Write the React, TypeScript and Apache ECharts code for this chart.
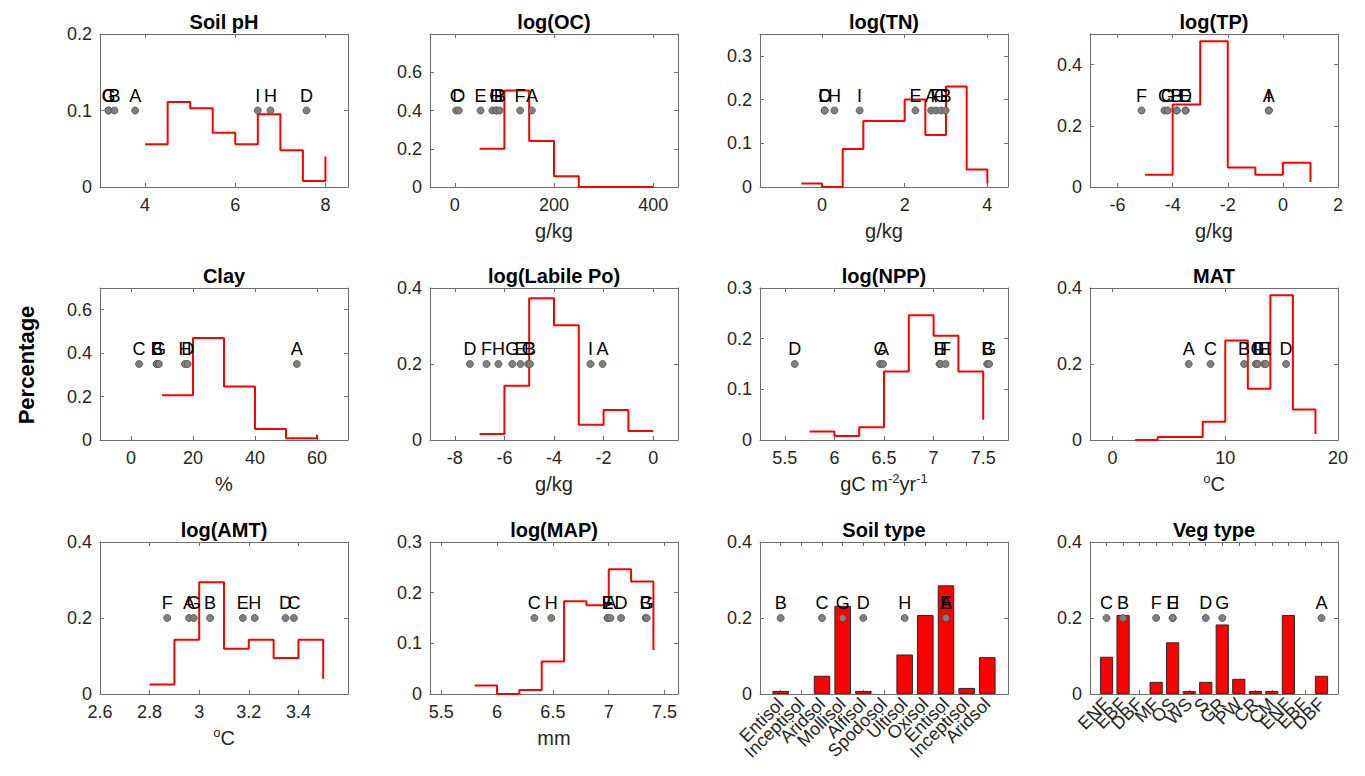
import React, { useEffect, useRef } from "react";
import * as echarts from "echarts";

// ---------------- data ----------------
const phEdges = [4, 4.5, 5, 5.5, 6, 6.5, 7, 7.5, 8];
const phFreq = [0.056, 0.111, 0.103, 0.071, 0.056, 0.095, 0.048, 0.008, 0.04];
const phSites = ["C", "G", "B", "A", "I", "H", "D"];
const phSiteX = [3.19, 3.19, 3.32, 3.78, 6.5, 6.78, 7.58];

const ocEdges = [50, 100, 150, 200, 250, 300, 350, 400];
const ocFreq = [0.2, 0.504, 0.24, 0.056, 0, 0, 0, 0];
const ocSites = ["C", "D", "E", "I", "H", "G", "B", "F", "A"];
const ocSiteX = [2.7, 8.1, 52, 75.7, 83.8, 83.8, 90.5, 131.7, 155.4];

const tnEdges = [-0.5, 0, 0.5, 1, 1.5, 2, 2.5, 3, 3.5, 4];
const tnFreq = [0.008, 0, 0.087, 0.151, 0.151, 0.2, 0.119, 0.23, 0.04, 0.008];
const tnSites = ["C", "D", "H", "I", "E", "A", "F", "G", "B"];
const tnSiteX = [0.065, 0.065, 0.3, 0.91, 2.26, 2.64, 2.76, 2.88, 2.99];

const tpEdges = [-5, -4, -3, -2, -1, 0, 1];
const tpFreq = [0.04, 0.27, 0.476, 0.064, 0.04, 0.079, 0.016];
const tpSites = ["F", "C", "G", "B", "H", "E", "D", "I", "A"];
const tpSiteX = [-5.13, -4.3, -4.18, -3.85, -3.85, -3.53, -3.53, -0.51, -0.51];

const clayEdges = [10, 20, 30, 40, 50, 60];
const clayFreq = [0.206, 0.47, 0.246, 0.051, 0.008, 0.024];
const claySites = ["C", "B", "E", "G", "H", "D", "A"];
const claySiteX = [2.6, 8.3, 8.3, 9.0, 17.4, 18.3, 53.5];

const poEdges = [-7, -6, -5, -4, -3, -2, -1, 0];
const poFreq = [0.016, 0.143, 0.373, 0.302, 0.04, 0.079, 0.024, 0.024];
const poSites = ["D", "F", "H", "G", "E", "C", "B", "I", "A"];
const poSiteX = [-7.39, -6.72, -6.24, -5.68, -5.35, -5.04, -4.97, -2.53, -2.04];

const nppEdges = [5.75, 6, 6.25, 6.5, 6.75, 7, 7.25, 7.5];
const nppFreq = [0.017, 0.008, 0.025, 0.135, 0.246, 0.206, 0.135, 0.04];
const nppSites = ["D", "C", "A", "E", "H", "F", "B", "G"];
const nppSiteX = [5.6, 6.46, 6.49, 7.06, 7.07, 7.12, 7.54, 7.56];

const matEdges = [2, 4, 6, 8, 10, 12, 14, 16, 18];
const matFreq = [0, 0.008, 0.008, 0.048, 0.262, 0.135, 0.381, 0.08, 0.016];
const matSites = ["A", "C", "B", "I", "G", "F", "H", "E", "D"];
const matSiteX = [6.76, 8.69, 11.67, 12.71, 12.86, 12.86, 13.45, 13.6, 15.39];

const amtEdges = [2.8, 2.9, 3, 3.1, 3.2, 3.3, 3.4, 3.5];
const amtFreq = [0.025, 0.143, 0.294, 0.119, 0.143, 0.095, 0.143, 0.04];
const amtSites = ["F", "A", "G", "B", "E", "H", "D", "C"];
const amtSiteX = [2.871, 2.959, 2.978, 3.044, 3.176, 3.224, 3.348, 3.382];

const mapEdges = [5.8, 6, 6.2, 6.4, 6.6, 6.8, 7, 7.2, 7.4];
const mapFreq = [0.017, 0, 0.008, 0.064, 0.183, 0.175, 0.246, 0.222, 0.087];
const mapSites = ["C", "H", "E", "F", "A", "D", "B", "G"];
const mapSiteX = [6.334, 6.486, 6.99, 6.99, 7.015, 7.11, 7.33, 7.34];

const soilTypes = ["Entisol", "Inceptisol", "Aridsol", "Mollisol", "Alfisol", "Spodosol", "Ultisol", "Oxisol", "Entisol", "Inceptisol", "Aridsol"];
const soilFreq = [0.008, 0, 0.048, 0.232, 0.008, 0, 0.104, 0.208, 0.286, 0.016, 0.097];
const soilSites = ["B", "C", "G", "D", "H", "E", "A"];
const soilSiteX = [1, 3, 4, 5, 7, 9, 9];

const vegTypes = ["ENF", "EBF", "DBF", "MF", "OS", "WS", "S", "GR", "PW", "CR", "CM", "ENF", "EBF", "DBF"];
const vegFreq = [0.098, 0.208, 0, 0.032, 0.136, 0.008, 0.032, 0.183, 0.04, 0.008, 0.008, 0.208, 0, 0.048];
const vegSites = ["C", "B", "F", "E", "H", "D", "G", "A"];
const vegSiteX = [1, 2, 4, 5, 5, 7, 8, 14];

// ---------------- panels ----------------
type Panel = {
  title: string;
  xName: string;
  xMin: number;
  xMax: number;
  xTicks: number[];
  yMax: number;
  yTicks: number[];
  edges?: number[];
  freq: number[];
  cats?: string[];
  sites: string[];
  siteX: number[];
  siteY: number;
};

const panels: Panel[] = [
  { title: "Soil pH", xName: "", xMin: 3, xMax: 8.5, xTicks: [4, 6, 8], yMax: 0.2, yTicks: [0, 0.1, 0.2], edges: phEdges, freq: phFreq, sites: phSites, siteX: phSiteX, siteY: 0.1 },
  { title: "log(OC)", xName: "{n|g/kg}", xMin: -50, xMax: 450, xTicks: [0, 200, 400], yMax: 0.8, yTicks: [0, 0.2, 0.4, 0.6], edges: ocEdges, freq: ocFreq, sites: ocSites, siteX: ocSiteX, siteY: 0.4 },
  { title: "log(TN)", xName: "{n|g/kg}", xMin: -1.5, xMax: 4.5, xTicks: [0, 2, 4], yMax: 0.35, yTicks: [0, 0.1, 0.2, 0.3], edges: tnEdges, freq: tnFreq, sites: tnSites, siteX: tnSiteX, siteY: 0.175 },
  { title: "log(TP)", xName: "{n|g/kg}", xMin: -7, xMax: 2, xTicks: [-6, -4, -2, 0, 2], yMax: 0.5, yTicks: [0, 0.2, 0.4], edges: tpEdges, freq: tpFreq, sites: tpSites, siteX: tpSiteX, siteY: 0.25 },
  { title: "Clay", xName: "{n|%}", xMin: -10, xMax: 70, xTicks: [0, 20, 40, 60], yMax: 0.7, yTicks: [0, 0.2, 0.4, 0.6], edges: clayEdges, freq: clayFreq, sites: claySites, siteX: claySiteX, siteY: 0.35 },
  { title: "log(Labile Po)", xName: "{n|g/kg}", xMin: -9, xMax: 1, xTicks: [-8, -6, -4, -2, 0], yMax: 0.4, yTicks: [0, 0.2, 0.4], edges: poEdges, freq: poFreq, sites: poSites, siteX: poSiteX, siteY: 0.2 },
  { title: "log(NPP)", xName: "{n|gC m}{s|-2}{n|yr}{s|-1}", xMin: 5.25, xMax: 7.75, xTicks: [5.5, 6, 6.5, 7, 7.5], yMax: 0.3, yTicks: [0, 0.1, 0.2, 0.3], edges: nppEdges, freq: nppFreq, sites: nppSites, siteX: nppSiteX, siteY: 0.15 },
  { title: "MAT", xName: "{s|o}{n|C}", xMin: -2, xMax: 20, xTicks: [0, 10, 20], yMax: 0.4, yTicks: [0, 0.2, 0.4], edges: matEdges, freq: matFreq, sites: matSites, siteX: matSiteX, siteY: 0.2 },
  { title: "log(AMT)", xName: "{s|o}{n|C}", xMin: 2.6, xMax: 3.6, xTicks: [2.6, 2.8, 3, 3.2, 3.4], yMax: 0.4, yTicks: [0, 0.2, 0.4], edges: amtEdges, freq: amtFreq, sites: amtSites, siteX: amtSiteX, siteY: 0.2 },
  { title: "log(MAP)", xName: "{n|mm}", xMin: 5.4, xMax: 7.62, xTicks: [5.5, 6, 6.5, 7, 7.5], yMax: 0.3, yTicks: [0, 0.1, 0.2, 0.3], edges: mapEdges, freq: mapFreq, sites: mapSites, siteX: mapSiteX, siteY: 0.15 },
  { title: "Soil type", xName: "", xMin: 0, xMax: 12, xTicks: [], yMax: 0.4, yTicks: [0, 0.2, 0.4], cats: soilTypes, freq: soilFreq, sites: soilSites, siteX: soilSiteX, siteY: 0.2 },
  { title: "Veg type", xName: "", xMin: 0, xMax: 15, xTicks: [], yMax: 0.4, yTicks: [0, 0.2, 0.4], cats: vegTypes, freq: vegFreq, sites: vegSites, siteX: vegSiteX, siteY: 0.2 },
];

// ---------------- layout / style ----------------
const FONT = "'Liberation Sans', Arial, Helvetica, sans-serif";
const AX = "#6e6e6e";
const TXT = "#262626";
const COL_LEFT = [100, 430, 760, 1090];
const ROW_TOP = [34, 288, 542];
const ROW_H = [153, 152, 152];
const PW = 248;

function buildOption() {
  const grid: any[] = [];
  const xAxis: any[] = [];
  const yAxis: any[] = [];
  const series: any[] = [];
  const graphic: any[] = [];

  const axisLine = { show: true, onZero: false, lineStyle: { color: AX, width: 1 } };
  const tick = (vals: number[]) => ({ show: true, inside: true, length: 4, customValues: vals, lineStyle: { color: AX, width: 1 } });
  const catTick = { show: true, inside: true, length: 4, interval: 0, lineStyle: { color: AX, width: 1 } };
  const nameStyle = {
    fontSize: 20,
    fontFamily: FONT,
    color: TXT,
    rich: {
      n: { fontSize: 20, fontFamily: FONT, color: TXT, lineHeight: 24 },
      s: { fontSize: 13, fontFamily: FONT, color: TXT, verticalAlign: "top" },
    },
  };

  panels.forEach((p, i) => {
    const r = Math.floor(i / 4);
    const c = i % 4;
    const left = COL_LEFT[c];
    const top = ROW_TOP[r];
    const h = ROW_H[r];
    grid.push({ left, top, width: PW, height: h, containLabel: false, outerBoundsMode: "none" });
    const cats = p.cats;

    if (cats) {
      // category axis padded with an empty slot at each end (MATLAB xlim [0, n+1])
      const axisCats = ["", ...cats, ""];
      xAxis.push({
        type: "category",
        gridIndex: i,
        position: "bottom",
        data: axisCats,
        boundaryGap: false,
        axisLine,
        axisTick: catTick,
        splitLine: { show: false },
        axisLabel: { interval: 0, rotate: 45, margin: 7, fontSize: 18, fontFamily: FONT, color: TXT },
      });
      xAxis.push({
        type: "category",
        gridIndex: i,
        position: "top",
        data: axisCats,
        boundaryGap: false,
        axisLine,
        axisTick: catTick,
        axisLabel: { show: false },
        splitLine: { show: false },
      });
    } else {
      xAxis.push({
        type: "value",
        gridIndex: i,
        position: "bottom",
        min: p.xMin,
        max: p.xMax,
        axisLine,
        axisTick: tick(p.xTicks),
        splitLine: { show: false },
        axisLabel: {
          show: true,
          customValues: p.xTicks,
          showMinLabel: true,
          showMaxLabel: true,
          margin: 9,
          fontSize: 18,
          fontFamily: FONT,
          color: TXT,
          formatter: (v: number) => String(v),
        },
        name: p.xName,
        nameLocation: "middle",
        nameGap: 32,
        nameTextStyle: nameStyle,
      });
      xAxis.push({
        type: "value",
        gridIndex: i,
        position: "top",
        min: p.xMin,
        max: p.xMax,
        axisLine,
        axisTick: tick(p.xTicks),
        axisLabel: { show: false },
        splitLine: { show: false },
      });
    }
    yAxis.push({
      type: "value",
      gridIndex: i,
      position: "left",
      min: 0,
      max: p.yMax,
      axisLine,
      axisTick: tick(p.yTicks),
      splitLine: { show: false },
      axisLabel: {
        customValues: p.yTicks,
        showMinLabel: true,
        showMaxLabel: true,
        margin: 8,
        fontSize: 18,
        fontFamily: FONT,
        color: TXT,
        formatter: (v: number) => String(v),
      },
    });
    yAxis.push({
      type: "value",
      gridIndex: i,
      position: "right",
      min: 0,
      max: p.yMax,
      axisLine,
      axisTick: tick(p.yTicks),
      axisLabel: { show: false },
      splitLine: { show: false },
    });

    if (cats) {
      series.push({
        type: "bar",
        xAxisIndex: 2 * i,
        yAxisIndex: 2 * i,
        data: cats.map((_, k) =>
          p.freq[k] > 0
            ? { value: [k + 1, p.freq[k]] }
            : { value: [k + 1, p.freq[k]], itemStyle: { opacity: 0, borderWidth: 0 } }
        ),
        barWidth: (0.8 * PW) / (cats.length + 1),
        itemStyle: { color: "#ff0000", borderColor: "#2b2b2b", borderWidth: 1 },
        silent: true,
        z: 2,
      });
    } else {
      series.push({
        type: "line",
        xAxisIndex: 2 * i,
        yAxisIndex: 2 * i,
        step: "end",
        symbol: "none",
        data: (p.edges as number[]).map((e, k) => [e, p.freq[k]]),
        lineStyle: { color: "#ff0000", width: 2 },
        itemStyle: { color: "#ff0000" },
        silent: true,
        z: 2,
      });
    }
    series.push({
      type: "scatter",
      xAxisIndex: 2 * i,
      yAxisIndex: 2 * i,
      symbol: "circle",
      symbolSize: 7,
      data: p.siteX.map((x, k) => ({ value: [x, p.siteY], name: p.sites[k] })),
      itemStyle: { color: "#808080", borderColor: "#4f4f4f", borderWidth: 0.8, opacity: 1 },
      label: { show: true, position: "top", distance: 2, formatter: "{b}", fontSize: 18, fontFamily: FONT, color: "#000" },
      silent: true,
      z: 3,
    });

    graphic.push({
      type: "text",
      x: left + PW / 2,
      y: top - 12,
      style: { text: p.title, fontSize: 20, fontWeight: "bold", fontFamily: FONT, fill: "#000", align: "center", verticalAlign: "middle" },
    });
  });

  graphic.push({
    type: "text",
    x: 26,
    y: 365,
    rotation: Math.PI / 2,
    style: { text: "Percentage", fontSize: 22, fontWeight: "bold", fontFamily: FONT, fill: "#000", align: "center", verticalAlign: "middle" },
  });

  return {
    animation: false,
    backgroundColor: "#ffffff",
    grid,
    xAxis,
    yAxis,
    series,
    graphic,
  };
}

export default function App() {
  const ref = useRef<HTMLDivElement>(null);
  useEffect(() => {
    if (!ref.current) return;
    const chart = echarts.init(ref.current, undefined, { renderer: "svg" });
    chart.setOption(buildOption() as any);
    return () => chart.dispose();
  }, []);
  return (
    <div
      ref={ref}
      style={{ position: "fixed", left: 0, top: 0, width: 1365, height: 776, background: "#fff" }}
    />
  );
}
